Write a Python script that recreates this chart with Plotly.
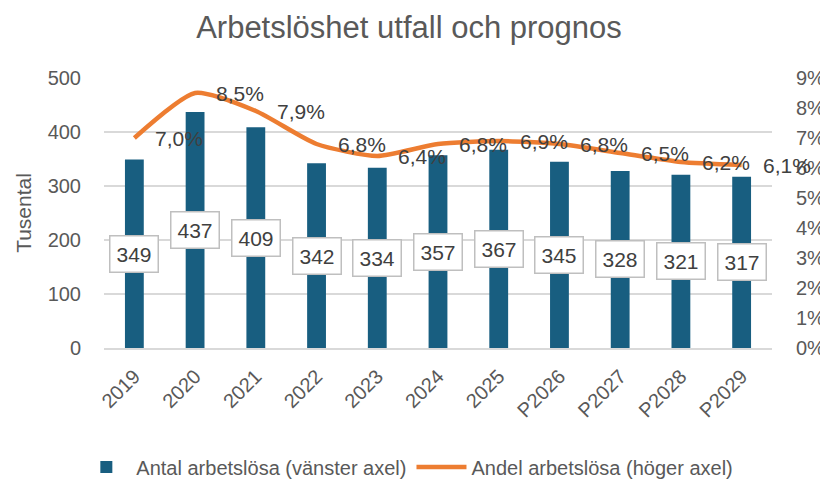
import plotly.graph_objects as go

categories = ["2019", "2020", "2021", "2022", "2023", "2024", "2025", "P2026", "P2027", "P2028", "P2029"]
antal = [349, 437, 409, 342, 334, 357, 367, 345, 328, 321, 317]
andel = [7.0, 8.5, 7.9, 6.8, 6.4, 6.8, 6.9, 6.8, 6.5, 6.2, 6.1]
left_ticks = [0, 100, 200, 300, 400, 500]
right_ticks = [0, 1, 2, 3, 4, 5, 6, 7, 8, 9]
right_labels = [f"{t}%" for t in right_ticks]

BLUE = "#185E80"
ORANGE = "#ED7D31"
TXT = "#595959"
NARROW = "Liberation Sans Narrow, Arial Narrow, Liberation Sans, Arial, sans-serif"
REG = "Liberation Sans, Arial, sans-serif"

fig = go.Figure()
fig.add_trace(go.Bar(
    x=categories, y=antal, name="Antal arbetslösa (vänster axel)",
    marker=dict(color=BLUE, line=dict(width=0)), yaxis="y", width=0.31,
))
fig.add_trace(go.Scatter(
    x=categories, y=andel, name="Andel arbetslösa (höger axel)", mode="lines",
    line=dict(color=ORANGE, width=4.5, shape="spline", smoothing=0.6), yaxis="y2",
))

annotations = []
for i, v in enumerate(antal):
    annotations.append(dict(
        x=i, y=v / 2, xref="x", yref="y", text=str(v), showarrow=False,
        font=dict(family=REG, size=21, color="#404040"),
        bgcolor="white", bordercolor="#BFBFBF", borderwidth=1.5, borderpad=6,
        xanchor="center", yanchor="middle",
    ))
for i, v in enumerate(andel):
    annotations.append(dict(
        x=i, y=v, xref="x", yref="y2", text=f"{v:.1f}".replace(".", ",") + "%",
        showarrow=False, font=dict(family=REG, size=21, color="#404040"),
        xanchor="left", yanchor="middle", xshift=19,
    ))

# the page body adds an 8px offset, so the figure is 820x472 and placed accordingly
fig.update_layout(
    width=820, height=472,
    paper_bgcolor="white", plot_bgcolor="white",
    margin=dict(l=96, r=56, t=70, b=132, autoexpand=False),
    title=dict(text="Arbetslöshet utfall och prognos", x=0.489, xanchor="center",
               xref="container", yref="container", y=0.96, yanchor="middle",
               font=dict(family=NARROW, size=31, color=TXT)),
    xaxis=dict(
        type="category", range=[-0.5, len(categories) - 0.5], automargin=False,
        tickangle=-45, tickfont=dict(family=REG, size=20, color=TXT),
        showgrid=False, showline=True, linecolor="#D9D9D9", linewidth=1.5,
        ticks="outside", ticklen=7, tickcolor="rgba(0,0,0,0)",
    ),
    yaxis=dict(
        range=[0, 500], tickvals=left_ticks, automargin=False,
        tickfont=dict(family=REG, size=20, color=TXT),
        showgrid=True, gridcolor="#D9D9D9", gridwidth=1.5, zeroline=False,
        ticks="outside", ticklen=18, tickcolor="rgba(0,0,0,0)",
        title=dict(text="Tusental", font=dict(family=REG, size=21, color=TXT), standoff=10),
    ),
    yaxis2=dict(
        range=[0, 9], tickvals=right_ticks, ticktext=right_labels, overlaying="y", side="right",
        automargin=False, tickfont=dict(family=REG, size=20, color=TXT),
        showgrid=False, zeroline=False,
        ticks="outside", ticklen=19, tickcolor="rgba(0,0,0,0)",
    ),
    legend=dict(orientation="h", x=0.487, xanchor="center", y=0.0275, yanchor="middle",
                xref="container", yref="container",
                font=dict(family=NARROW, size=20, color=TXT), itemwidth=50,
                traceorder="normal"),
    annotations=annotations,
    showlegend=True,
)

fig.write_html("out.html")
